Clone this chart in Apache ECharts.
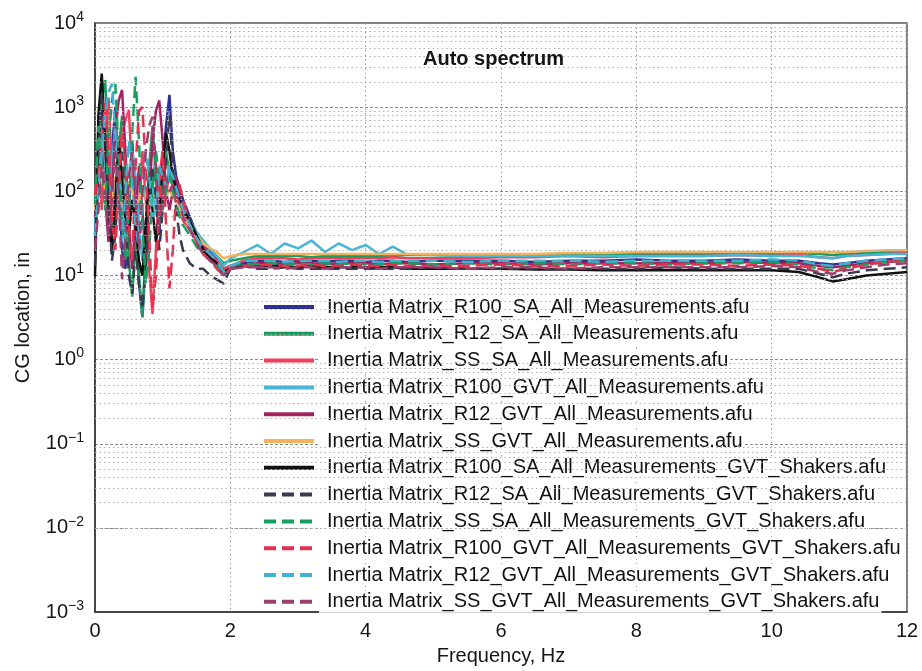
<!DOCTYPE html>
<html>
<head>
<meta charset="utf-8">
<script src="https://cdn.jsdelivr.net/npm/echarts@6/dist/echarts.min.js"></script>
<style>
  html, body { margin: 0; padding: 0; background: #ffffff; }
  #chart { width: 922px; height: 671px; }
</style>
</head>
<body>
<div id="chart"></div>
<script>
// Frequency samples (Hz): fine steps through the low-frequency swing, coarser on the plateau
const freq = [
  0, 0.05, 0.1, 0.15, 0.2, 0.25, 0.3, 0.35, 0.4, 0.45, 0.5, 0.55, 0.6, 0.65, 0.7,
  0.75, 0.8, 0.85, 0.9, 0.95, 1.0, 1.05, 1.1, 1.15, 1.2, 1.25, 1.3,
  1.4, 1.5, 1.6, 1.7, 1.8, 1.9, 2.0,
  2.2, 2.4, 2.6, 2.8, 3.0, 3.2, 3.4, 3.6, 3.8, 4.0, 4.2, 4.4, 4.6,
  5.0, 5.5, 6.0, 6.5, 7.0, 7.5, 8.0, 8.5, 9.0, 9.5, 10.0,
  10.4, 10.7, 10.9, 11.1, 11.4, 11.7, 12.0
];

// CG location (in) per inertia-matrix case
const r100SA = [30,400,900,200,40,300,1000,150,20,12,60,400,60,8,3.2,15,120,500,200,30,200,600,1400,300,150,110,80,
  50,32,24,19,16,12,13, 14,15,15,14.5,15,15,14.5,15,15,14.5,15,15,14.5, 15,15,15,14.5,15,15,15.5,15,15,15.5,15, 15,14,13.5,14,15,15.5,16];
const r12SA = [80,300,1200,2100,300,20,40,300,800,150,15,5.6,30,10,3.2,20,200,600,150,40,120,300,160,120,90,70,60,
  45,32,24,20,17,14,15, 16,17,17,17,17,16.5,17,17,17,17,17,17,17.5, 17.5,17,17.5,17.5,17.5,18,18,18,18,18.5,18, 18.5,18,17.5,18,18.5,19,19];
const ssSA = [95,200,60,500,1300,200,30,200,500,700,930,150,30,60,300,80,12,3.5,20,150,300,80,200,150,100,60,45,
  35,27,22,18,15,12,13, 15,16,16,16,15.5,16,16,16,16,16,16,16.5,16, 16,16,16.5,16.5,17,16.5,17,17,17,17.5,17, 17.5,16.5,16,17,17.5,18,18.5];
const r100GVT = [40,150,500,120,30,200,600,200,50,25,80,300,150,40,15,40,150,100,60,90,150,120,200,180,120,80,60,
  45,33,26,21,17,13,16, 19,23,18,24,21,26,19,24,20,23,18,22,18, 17.5,17,17,17,17,17,17,17,17,17.5,17, 17,16.5,16,17,17.5,18,18];
const r12GVT = [50,100,300,80,25,100,500,1200,1600,300,40,12,50,200,60,15,80,400,900,1200,400,100,60,100,150,90,60,
  40,28,22,17,14,11,12, 13,14,14,13.5,14,14,13.5,14,14,14,13.5,14,14, 13.5,14,14,13.5,14,14,14,14,14,14.5,14, 14,13,12.5,13,14,14.5,15];
const ssGVT = [60,120,200,100,60,90,150,100,70,90,130,100,70,80,110,90,70,80,100,90,80,90,100,90,80,60,50,
  40,30,24,21,19,16,17, 18,18,18,18,18,18,18,18,18,18,18,18,18, 18,18,18,18,18.5,18.5,19,19,19,19,19, 19,19,19,19,19.5,20,20];
const r100SAShakers = [9.7,800,2500,400,60,20,80,400,150,40,30,80,40,15,10,40,150,60,25,50,200,500,300,150,110,80,60,
  45,30,20,16,14,11,12, 13,13,13,13,12.5,13,12.5,12.5,12.5,12.5,12.5,12.5,12, 12,12,12,11.8,11.8,11.5,11.5,11.5,11.5,11.5,11.5, 11,9.5,8.5,9,10,10.5,11];
const r12SAShakers = [13,200,1500,600,80,15,30,200,300,60,10,6,20,8,4,12,60,200,80,20,60,250,800,200,60,30,20,
  14,12,12,10,9,8,12, 13,12,12,12.5,12,12,12,12,12,12,12,12,12, 12.5,12,12,12,12,12,12,12.5,12,12,12, 12,10.5,9.5,10.5,11.5,12,12.5];
const ssSAShakers = [70,600,200,60,400,1200,1900,300,40,15,60,500,2300,400,40,8,20,100,300,150,60,100,150,100,70,50,40,
  30,22,18,15,13,11,13, 14,13.5,14,13.5,14,13.5,14,13.5,14,13.5,13.5,14,14, 13.5,14,13.5,14,13.5,14,14,13.5,14,14,14.5, 13.5,12,11.5,12.5,13.5,14.5,15];
const r100GVTShakers = [90,150,400,1100,300,50,20,100,500,200,40,15,200,900,1000,200,30,4,10,60,300,40,7,20,100,120,80,
  40,25,18,15,12,10,12, 13,13,13.5,13,13,13.5,13,13,13.5,13,13,13.5,13, 13,13,13.5,13,13,13.5,13,13.5,13.5,13,13.5, 13,12,11,12,13.5,14.5,15];
const r12GVTShakers = [30,100,300,800,1500,1900,500,60,25,100,400,150,40,20,60,300,150,50,60,200,150,120,180,150,110,80,60,
  40,28,21,18,15,11,13, 15,15,15,14.5,15,15,15,14.5,15,15,14.5,15,15, 15,14.5,15,15,15,14.5,15,15,15,15,15.5, 15,13.5,13,14,15,15.5,16];
const ssGVTShakers = [20,60,200,100,30,80,300,100,9,30,150,300,80,20,100,300,600,770,200,40,80,150,100,120,90,70,50,
  35,24,18,15,13,10,12, 12.5,12.5,12.5,12,12.5,12.5,12,12.5,12.5,12.5,12,12.5,12.5, 12.5,12,12.5,12.5,12,12.5,12.5,12.5,12.5,12.5,13, 12.5,11,10.5,11.5,12.5,13.5,14];

const seriesNames = [
  'Inertia Matrix_R100_SA_All_Measurements.afu',
  'Inertia Matrix_R12_SA_All_Measurements.afu',
  'Inertia Matrix_SS_SA_All_Measurements.afu',
  'Inertia Matrix_R100_GVT_All_Measurements.afu',
  'Inertia Matrix_R12_GVT_All_Measurements.afu',
  'Inertia Matrix_SS_GVT_All_Measurements.afu',
  'Inertia Matrix_R100_SA_All_Measurements_GVT_Shakers.afu',
  'Inertia Matrix_R12_SA_All_Measurements_GVT_Shakers.afu',
  'Inertia Matrix_SS_SA_All_Measurements_GVT_Shakers.afu',
  'Inertia Matrix_R100_GVT_All_Measurements_GVT_Shakers.afu',
  'Inertia Matrix_R12_GVT_All_Measurements_GVT_Shakers.afu',
  'Inertia Matrix_SS_GVT_All_Measurements_GVT_Shakers.afu'
];
const seriesValues = [r100SA, r12SA, ssSA, r100GVT, r12GVT, ssGVT,
  r100SAShakers, r12SAShakers, ssSAShakers, r100GVTShakers, r12GVTShakers, ssGVTShakers];
const seriesColors = ['#2e3192', '#1b9a5c', '#ef3f5b', '#46b6d6', '#a2235f', '#f3b25c',
  '#111111', '#3a3a4e', '#18a062', '#e6304d', '#3fb1d0', '#9d3f6d'];
const seriesDashed = [false, false, false, false, false, false,
  false, true, true, true, true, true];

const FONT = '"Liberation Sans", Arial, Helvetica, sans-serif';

// log-decade minor gridlines at 2..9 x 10^k
const minorGrid = [];
for (let k = -3; k <= 3; k++) {
  for (let m = 2; m <= 9; m++) minorGrid.push({ yAxis: m * Math.pow(10, k) });
}

const lineSeries = seriesNames.map((name, i) => ({
  name: name,
  type: 'line',
  data: freq.map((f, j) => [f, seriesValues[i][j]]),
  symbol: 'none',
  showSymbol: false,
  smooth: false,
  z: 3,
  lineStyle: {
    color: seriesColors[i],
    width: 2.5,
    type: seriesDashed[i] ? [12, 6] : 'solid'
  },
  itemStyle: { color: seriesColors[i] }
}));

const chart = echarts.init(document.getElementById('chart'), null, { renderer: 'canvas' });
chart.setOption({
  animation: false,
  backgroundColor: '#ffffff',
  textStyle: { fontFamily: FONT },
  title: {
    text: 'Auto spectrum',
    left: 418,
    top: 44,
    textStyle: { fontFamily: FONT, fontSize: 20, fontWeight: 'bold', color: '#151515' }
  },
  grid: {
    left: 95, right: 15, top: 23, bottom: 58,
    show: true,
    borderColor: '#555',
    borderWidth: 1.5,
    backgroundColor: 'transparent'
  },
  legend: {
    show: true,
    data: seriesNames,
    orient: 'vertical',
    left: 262,
    top: 296,
    itemWidth: 50,
    itemHeight: 14,
    itemGap: 4.8,
    lineStyle: { width: 4 },
    itemStyle: { opacity: 0 },
    padding: 0,
    textStyle: {
      fontFamily: FONT,
      fontSize: 20,
      color: '#111111',
      lineHeight: 22,
      backgroundColor: '#ffffff',
      padding: [0, 2, 0, 8]
    }
  },
  xAxis: {
    type: 'value',
    min: 0,
    max: 12,
    interval: 2,
    name: 'Frequency, Hz',
    nameLocation: 'middle',
    nameGap: 32,
    nameTextStyle: { fontFamily: FONT, fontSize: 20, color: '#151515' },
    axisLine: { show: true, lineStyle: { color: '#333', width: 1.5 } },
    axisTick: { show: false },
    axisLabel: { fontFamily: FONT, fontSize: 20, color: '#151515', margin: 9 },
    splitLine: { show: true, lineStyle: { color: '#9a9a9a', type: [1.5, 3], width: 1 } }
  },
  yAxis: {
    type: 'log',
    logBase: 10,
    min: 0.001,
    max: 10000,
    interval: 1,
    name: 'CG location, in',
    nameLocation: 'middle',
    nameGap: 62,
    nameTextStyle: { fontFamily: FONT, fontSize: 20, color: '#151515' },
    axisLine: { show: true, lineStyle: { color: '#333', width: 1.5 } },
    axisTick: { show: false },
    axisLabel: {
      margin: 11,
      formatter: function (v) {
        const e = Math.round(Math.log10(v));
        return '{b|10}{s|' + (e < 0 ? '\u2212' + (-e) : e) + '}';
      },
      rich: {
        b: { fontFamily: FONT, fontSize: 20, color: '#151515' },
        s: { fontFamily: FONT, fontSize: 14, color: '#151515', padding: [0, 0, 12, 0] }
      }
    },
    splitLine: { show: true, lineStyle: { color: '#8c8c8c', type: [3, 2], width: 1 } }
  },
  series: [{
    name: 'minor-grid',
    type: 'line',
    data: [],
    silent: true,
    z: 1,
    markLine: {
      silent: true,
      symbol: 'none',
      label: { show: false },
      lineStyle: { color: '#b0b0b0', type: [1.5, 3], width: 1 },
      data: minorGrid
    }
  }].concat(lineSeries)
});
</script>
</body>
</html>
